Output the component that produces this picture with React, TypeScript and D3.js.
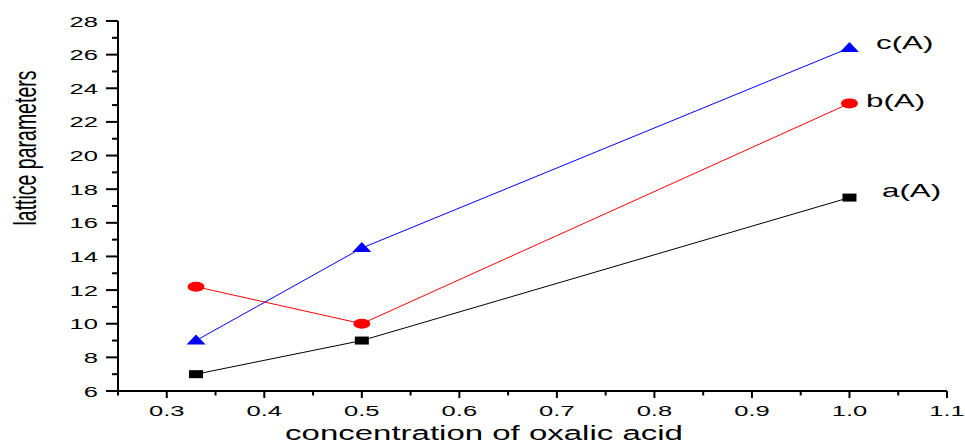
import React from "react";
import * as d3 from "d3";

// concentration of oxalic acid
const concentrations = [0.33, 0.5, 1.0];

// lattice parameters for each series
const aValues = [7.0, 9.0, 17.5];
const bValues = [12.2, 10.0, 23.1];
const cValues = [9.0, 14.5, 26.4];

const seriesNames = ["a(A)", "b(A)", "c(A)"];

const xMajorTicks = [0.3, 0.4, 0.5, 0.6, 0.7, 0.8, 0.9, 1.0, 1.1];
const xMinorTicks = [0.25, 0.35, 0.45, 0.55, 0.65, 0.75, 0.85, 0.95, 1.05];
const yMajorTicks = [6, 8, 10, 12, 14, 16, 18, 20, 22, 24, 26, 28];
const yMinorTicks = [7, 9, 11, 13, 15, 17, 19, 21, 23, 25, 27];

const WIDTH = 965;
const HEIGHT = 443;
const FONT = "'Liberation Sans', Arial, sans-serif";
// the whole picture looks stretched sideways, so text gets the same stretch
const SX = 1.65;

// text stretched horizontally around its anchor point
function StretchText({ x, y, size, anchor = "start", children }) {
  return (
    <g transform={`translate(${x},${y}) scale(${SX},1)`}>
      <text x={0} y={0} fontSize={size} fontFamily={FONT} textAnchor={anchor} fill="#000">
        {children}
      </text>
    </g>
  );
}

function Marker({ shape, cx, cy, color }) {
  if (shape === "square") {
    return <rect x={cx - 7} y={cy - 4} width={14} height={8} fill={color} />;
  }
  if (shape === "circle") {
    return <ellipse cx={cx} cy={cy} rx={8.5} ry={5} fill={color} />;
  }
  // triangle
  const p = `M${cx},${cy - 6} L${cx + 9.5},${cy + 4} L${cx - 9.5},${cy + 4} Z`;
  return <path d={p} fill={color} />;
}

export default function App() {
  const x = d3.scaleLinear().domain([0.25, 1.1]).range([118, 947]);
  const y = d3.scaleLinear().domain([6, 28]).range([391, 21]);

  const line = d3
    .line<[number, number]>()
    .x((d) => x(d[0]))
    .y((d) => y(d[1]));

  const series = [
    { name: seriesNames[0], values: aValues, color: "#000000", shape: "square", lx: 882, ly: 197 },
    { name: seriesNames[1], values: bValues, color: "#ff0000", shape: "circle", lx: 866, ly: 107 },
    { name: seriesNames[2], values: cValues, color: "#0000ff", shape: "triangle", lx: 876, ly: 49 },
  ];

  const x0 = x(0.25);
  const y0 = y(6);

  return (
    <svg
      width={WIDTH}
      height={HEIGHT}
      style={{ position: "absolute", left: 0, top: 0, background: "#fff" }}
    >
      {/* lines first, markers on top */}
      {series.map((s) => (
        <path
          key={`line-${s.name}`}
          d={line(concentrations.map((c, i) => [c, s.values[i]]))}
          fill="none"
          stroke={s.color}
          strokeWidth={1}
        />
      ))}
      {series.map((s) =>
        concentrations.map((c, i) => (
          <Marker key={`m-${s.name}-${i}`} shape={s.shape} cx={x(c)} cy={y(s.values[i])} color={s.color} />
        ))
      )}

      {/* series labels */}
      {series.map((s) => (
        <StretchText key={`lab-${s.name}`} x={s.lx} y={s.ly} size={19}>
          {s.name}
        </StretchText>
      ))}

      {/* y axis */}
      <line x1={x0} x2={x0} y1={y(28)} y2={y0 + 1} stroke="#000" strokeWidth={2} />
      {yMajorTicks.map((t) => (
        <g key={`ym-${t}`}>
          <line x1={x0 - 12} x2={x0} y1={y(t)} y2={y(t)} stroke="#000" strokeWidth={2} />
          <StretchText x={98} y={y(t) + 5.5} size={15.5} anchor="end">
            {t}
          </StretchText>
        </g>
      ))}
      {yMinorTicks.map((t) => (
        <line key={`yn-${t}`} x1={x0 - 6} x2={x0} y1={y(t)} y2={y(t)} stroke="#000" strokeWidth={2} />
      ))}

      {/* x axis */}
      <line x1={x0 - 1} x2={x(1.1)} y1={y0} y2={y0} stroke="#000" strokeWidth={2} />
      {xMajorTicks.map((t) => (
        <g key={`xm-${t}`}>
          <line x1={x(t)} x2={x(t)} y1={y0} y2={y0 + 7} stroke="#000" strokeWidth={2} />
          <StretchText x={x(t)} y={416} size={15.5} anchor="middle">
            {t.toFixed(1)}
          </StretchText>
        </g>
      ))}
      {xMinorTicks.map((t) => (
        <line key={`xn-${t}`} x1={x(t)} x2={x(t)} y1={y0} y2={y0 + 4.5} stroke="#000" strokeWidth={2} />
      ))}

      {/* axis titles */}
      <StretchText x={484} y={440} size={20} anchor="middle">
        concentration of oxalic acid
      </StretchText>
      <g transform={`translate(36,148) scale(${SX},1) rotate(-90)`}>
        <text x={0} y={0} fontSize={19.5} fontFamily={FONT} textAnchor="middle" fill="#000">
          lattice parameters
        </text>
      </g>
    </svg>
  );
}
